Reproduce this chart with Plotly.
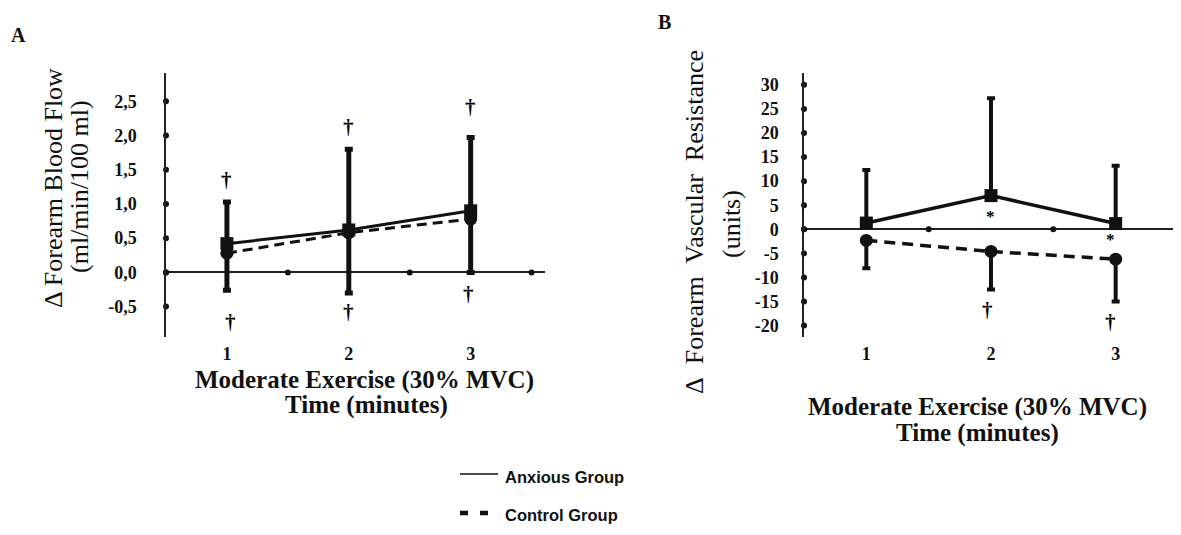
import plotly.graph_objects as go

# page has an 8px body margin; keep the figure inside the 1181x535 window
FW, FH = 1165, 519
OFF = 8

# ---------------- data ----------------
minutes = [1, 2, 3]

# Panel A: forearm blood flow change (ml/min/100 ml)
fbf_anxious = [0.42, 0.62, 0.90]
fbf_anxious_err = [0.61, 1.18, 1.07]
fbf_control = [0.28, 0.58, 0.78]
fbf_control_err = [0.54, 0.88, 0.78]
fbf_ticks = [-0.5, 0.0, 0.5, 1.0, 1.5, 2.0, 2.5]
fbf_ticklabels = ["-0,5", "0,0", "0,5", "1,0", "1,5", "2,0", "2,5"]

# Panel B: forearm vascular resistance change (units)
fvr_anxious = [1.3, 7.0, 1.2]
fvr_anxious_err = [11.0, 20.2, 12.0]
fvr_control = [-2.3, -4.6, -6.2]
fvr_control_err = [5.8, 7.9, 8.8]
fvr_ticks = [-20, -15, -10, -5, 0, 5, 10, 15, 20, 25, 30]
fvr_ticklabels = ["-20", "-15", "-10", "-5", "0", "5", "10", "15", "20", "25", "30"]

x_ticklabels = ["1", "2", "3"]
x_dots = [0.5, 1.5, 2.5, 3.5]

# significance marks (x, y, symbol)
fbf_marks_x = [1, 2, 3, 1.03, 2, 2.98]
fbf_marks_y = [1.35, 2.13, 2.42, -0.72, -0.58, -0.31]
fbf_marks_t = ["†", "†", "†", "†", "†", "†"]
fvr_marks_x = [1.97, 2, 2.96, 1.97, 2.96]
fvr_marks_y = [33.2, 2.6, -2.2, -16.8, -19.3]
fvr_marks_t = ["†", "*", "*", "†", "†"]

series_names = ["Anxious Group", "Control Group"]

# ---------------- helpers ----------------
def px(x):
    return (x - OFF) / FW

def py(y):
    return 1 - (y - OFF) / FH

SERIF = "Liberation Serif, Times New Roman, serif"
BLACK = "#111111"

fig = go.Figure()

def add_panel(xa, ya, anx, anx_err, ctl, ctl_err, ticks, lw, dash, thick, msize):
    fig.add_trace(go.Scatter(x=[0.5] * len(ticks), y=ticks, mode="markers",
                             marker=dict(size=6, color=BLACK), cliponaxis=False,
                             showlegend=False, hoverinfo="skip", xaxis=xa, yaxis=ya))
    fig.add_trace(go.Scatter(x=x_dots, y=[0] * len(x_dots), mode="markers",
                             marker=dict(size=6, color=BLACK), cliponaxis=False,
                             showlegend=False, hoverinfo="skip", xaxis=xa, yaxis=ya))
    fig.add_trace(go.Scatter(
        x=minutes, y=ctl, mode="lines+markers", name=series_names[1],
        line=dict(color=BLACK, width=lw, dash=dash),
        marker=dict(symbol="circle", size=msize, color=BLACK),
        error_y=dict(type="data", symmetric=False, array=[0, 0, 0], arrayminus=ctl_err,
                     color=BLACK, thickness=thick, width=4),
        cliponaxis=False, showlegend=False, xaxis=xa, yaxis=ya))
    fig.add_trace(go.Scatter(
        x=minutes, y=anx, mode="lines+markers", name=series_names[0],
        line=dict(color=BLACK, width=lw),
        marker=dict(symbol="square", size=msize, color=BLACK),
        error_y=dict(type="data", symmetric=False, array=anx_err, arrayminus=[0, 0, 0],
                     color=BLACK, thickness=thick, width=4),
        cliponaxis=False, showlegend=False, xaxis=xa, yaxis=ya))

add_panel("x", "y", fbf_anxious, fbf_anxious_err, fbf_control, fbf_control_err,
          fbf_ticks, 3, "10px,6px", 5, 13)
add_panel("x2", "y2", fvr_anxious, fvr_anxious_err, fvr_control, fvr_control_err,
          fvr_ticks, 3.5, "11px,7px", 4, 13)

tickfont = dict(family=SERIF, size=18, color=BLACK, weight="bold")

def xaxis(domain, rng):
    return dict(domain=domain, range=rng, showgrid=False, zeroline=False, showline=False,
                tickmode="array", tickvals=minutes, ticktext=x_ticklabels, ticks="",
                tickfont=tickfont, ticklabelstandoff=4, fixedrange=True, automargin=False)

def yaxis(domain, rng, tv, tt, anchor, standoff):
    return dict(domain=domain, range=rng, showgrid=False, showline=True, linecolor="#222",
                linewidth=1.5, zeroline=True, zerolinecolor="#222", zerolinewidth=1.5,
                tickmode="array", tickvals=tv, ticktext=tt, ticks="", tickfont=tickfont,
                ticklabelstandoff=standoff, anchor=anchor, fixedrange=True, automargin=False)

ydom = [py(336.7), py(73.3)]

annotations = []
for xv, yv, t in zip(fbf_marks_x, fbf_marks_y, fbf_marks_t):
    annotations.append(dict(x=xv, y=yv, xref="x", yref="y", text=t, showarrow=False,
                            font=dict(family=SERIF, size=21, color="#000000", weight="bold")))
for xv, yv, t in zip(fvr_marks_x, fvr_marks_y, fvr_marks_t):
    annotations.append(dict(x=xv, y=yv, xref="x2", yref="y2", text=t, showarrow=False,
                            font=dict(family=SERIF, size=21 if t == "†" else 17,
                                      color="#000000", weight="bold")))

def txt(x, y, text, size, bold=False, angle=0, family=SERIF, xanchor="center"):
    annotations.append(dict(x=px(x), y=py(y), xref="paper", yref="paper", text=text,
                            showarrow=False, textangle=angle, xanchor=xanchor, yanchor="middle",
                            font=dict(family=family, size=size, color=BLACK,
                                      weight="bold" if bold else "normal")))

txt(18, 35, "A", 20, bold=True)
txt(664, 22, "B", 20, bold=True)
txt(364, 380, "Moderate Exercise (30% MVC)", 25, bold=True)
txt(366, 405, "Time (minutes)", 25, bold=True)
txt(978, 407, "Moderate Exercise (30% MVC)", 25, bold=True)
txt(978, 433, "Time (minutes)", 25, bold=True)
txt(53, 188, "Δ Forearm Blood Flow", 26, angle=-90)
txt(79, 187, "(ml/min/100 ml)", 26, angle=-90)
txt(694, 222, "Δ\u00a0 Forearm\u00a0 Vascular\u00a0 Resistance", 26, angle=-90)
txt(731, 224, "(units)", 26, angle=-90)

# legend (drawn inside the figure so it does not push the margins)
SANS = "Liberation Sans, Arial, sans-serif"
txt(503, 477, series_names[0], 16.5, bold=True, family=SANS, xanchor="left")
txt(503, 515, series_names[1], 16.5, bold=True, family=SANS, xanchor="left")
shapes = [
    dict(type="line", xref="paper", yref="paper", x0=px(460), x1=px(498), y0=py(474), y1=py(474),
         line=dict(color=BLACK, width=1.5)),
    dict(type="line", xref="paper", yref="paper", x0=px(460), x1=px(490), y0=py(513), y1=py(513),
         line=dict(color=BLACK, width=4.5, dash="8px,12px")),
]

fig.update_layout(
    width=FW, height=FH,
    margin=dict(l=0, r=0, t=0, b=0, autoexpand=False),
    paper_bgcolor="white", plot_bgcolor="white",
    xaxis=xaxis([px(166), px(545)], [0.5, 3.61]),
    yaxis=yaxis(ydom, [-0.94, 2.91], fbf_ticks, fbf_ticklabels, "x", 24),
    xaxis2=xaxis([px(804), 1.0], [0.5, 3.46]),
    yaxis2=yaxis(ydom, [-22.3, 32.4], fvr_ticks, fvr_ticklabels, "x2", 20),
    annotations=annotations,
    shapes=shapes,
    showlegend=False,
)

fig.write_html("out.html")
